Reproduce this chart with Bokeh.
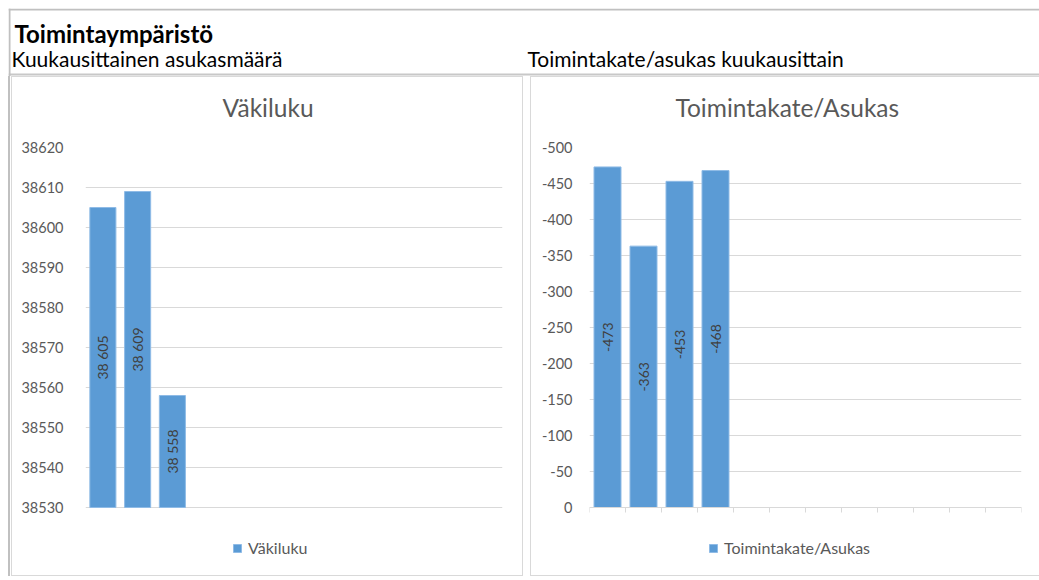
from math import pi
from bokeh.plotting import figure
from bokeh.models import (Range1d, FixedTicker, Span, Label, Legend, LegendItem,
                          Spacer, ColumnDataSource)
from bokeh.layouts import column, row
from bokeh.core.properties import value
from bokeh.embed import file_html
from bokeh.resources import INLINE

# ---------------- data ----------------
header_title = "Toimintaympäristö"
left_subtitle = "Kuukausittainen asukasmäärä"
right_subtitle = "Toimintakate/asukas kuukausittain"

months = ["tammi", "helmi", "maalis", "huhti", "touko", "kesä",
          "heinä", "elo", "syys", "loka", "marras", "joulu"]

vakiluku_title = "Väkiluku"
vakiluku = [38605, 38609, 38558]
vakiluku_ticks = [38530, 38540, 38550, 38560, 38570, 38580, 38590, 38600, 38610, 38620]
vakiluku_tick_labels = ["38530", "38540", "38550", "38560", "38570", "38580",
                        "38590", "38600", "38610", "38620"]

tk_title = "Toimintakate/Asukas"
toimintakate = [-473, -363, -453, -468]
tk_ticks = [0, -50, -100, -150, -200, -250, -300, -350, -400, -450, -500]
tk_tick_labels = ["0", "-50", "-100", "-150", "-200", "-250", "-300", "-350",
                  "-400", "-450", "-500"]

# ---------------- style ----------------
FONT = "Lato"
BAR = "#5b9bd5"
GRID = "#d9d9d9"
TXT = "#595959"
LBL = "#404040"
BOXC = {"background-color": "#d9d9d9"}
OUTER = {"background-color": "#c0c0c0"}

CH = 500          # chart box height (with its 1px border lines)
PLOT_H = 360      # height of the gridded value area
LEG_H = 68        # room below the value area for the legend

# ---------------- header ----------------
HW, HH = 1031, 68
hdr = figure(width=HW, height=HH, x_range=Range1d(0, HW), y_range=Range1d(0, HH),
             x_axis_type=None, y_axis_type=None, output_backend="svg",
             toolbar_location=None, min_border=0)
hdr.outline_line_color = None
hdr.background_fill_alpha = 0
hdr.border_fill_alpha = 0
hdr.grid.visible = False
hdr.add_layout(Span(location=HH - 1, dimension="width", line_color="#c0c0c0", line_width=2))
hdr.add_layout(Span(location=HH - 66, dimension="width", line_color="#c8c8c8", line_width=2))
hdr.add_layout(Span(location=1, dimension="height", line_color="#c0c0c0", line_width=2))
hdr.add_layout(Label(x=6, y=HH - 25, text=header_title, text_font=FONT,
                     text_font_style="bold", text_font_size="24px",
                     text_color="#000000", text_baseline="alphabetic"))
hdr.add_layout(Label(x=3, y=HH - 49.5, text=left_subtitle, text_font=FONT,
                     text_font_size="21px", text_color="#000000",
                     text_baseline="middle"))
hdr.add_layout(Label(x=519, y=HH - 49.5, text=right_subtitle, text_font=FONT,
                     text_font_size="21px", text_color="#000000",
                     text_baseline="middle"))


def style_chart(p, title, ticks, tick_labels, standoff, title_offset):
    p.outline_line_color = None
    p.title.text = title
    p.title.align = "left"
    p.title.text_font = FONT
    p.title.text_font_style = "normal"
    p.title.text_font_size = "24.5px"
    p.title.text_color = TXT
    p.title.standoff = 0
    p.title.padding = dict(top=0, right=0, bottom=26, left=0)
    p.title.offset = title_offset
    p.xgrid.visible = False
    p.ygrid.ticker = FixedTicker(ticks=ticks)
    p.ygrid.grid_line_color = GRID
    p.ygrid.grid_line_width = 1
    ya = p.yaxis[0]
    ya.ticker = FixedTicker(ticks=ticks)
    ya.major_label_overrides = {t: s for t, s in zip(ticks, tick_labels)}
    ya.axis_line_color = None
    ya.major_tick_line_color = None
    ya.minor_tick_line_color = None
    ya.major_label_standoff = standoff
    ya.major_label_text_font = FONT
    ya.major_label_text_font_size = "14.5px"
    ya.major_label_text_color = TXT


def make_legend(label, renderer, loc):
    return Legend(items=[LegendItem(label=label, renderers=[renderer])],
                  location=loc, orientation="horizontal", glyph_width=10,
                  glyph_height=10, label_height=10, padding=0, margin=0,
                  label_standoff=6, border_line_color=None,
                  background_fill_alpha=0, label_text_font=FONT,
                  label_text_font_size="16px", label_text_color=TXT)


n = len(months)

# ---------------- left chart ----------------
y0, y1 = vakiluku_ticks[0], vakiluku_ticks[-1]
ext1 = LEG_H * (y1 - y0) / PLOT_H
src1 = ColumnDataSource(dict(
    x=[i + 0.5 for i in range(len(vakiluku))],
    top=vakiluku,
    mid=[(y0 + v) / 2 for v in vakiluku],
    label=[f"{v:,}".replace(",", " ") for v in vakiluku],
))
p1 = figure(width=510, height=CH - 2, x_range=Range1d(0, n),
            y_range=Range1d(y0 - ext1, y1),
            output_backend="svg", toolbar_location=None,
            min_border_left=73, min_border_right=20, min_border_top=70,
            min_border_bottom=0)
style_chart(p1, vakiluku_title, vakiluku_ticks, vakiluku_tick_labels, 16, 137)
p1.xaxis.visible = False
r1 = p1.vbar(x="x", top="top", bottom=y0, width=0.75, fill_color=BAR,
             line_color="#8fbbe6", line_width=1, source=src1)
p1.text(x="x", y="mid", text="label", angle=pi / 2, text_align="center",
        text_baseline="middle", text_font=value(FONT), text_font_size="14px",
        text_color=LBL, source=src1)
p1.add_layout(make_legend(vakiluku_title, r1, (147, 18)), "center")

# ---------------- right chart ----------------
t0, t1 = tk_ticks[0], tk_ticks[-1]
ext2 = LEG_H * (t0 - t1) / PLOT_H
src2 = ColumnDataSource(dict(
    x=[i + 0.5 for i in range(len(toimintakate))],
    top=toimintakate,
    mid=[v / 2 for v in toimintakate],
    label=[str(v) for v in toimintakate],
))
p2 = figure(width=508, height=CH - 2, x_range=Range1d(0, n),
            y_range=Range1d(t0 + ext2, t1),
            output_backend="svg", toolbar_location=None,
            min_border_left=58, min_border_right=18, min_border_top=70,
            min_border_bottom=0)
style_chart(p2, tk_title, tk_ticks, tk_tick_labels, 11, 86)
xa = p2.xaxis[0]
xa.fixed_location = t0
xa.ticker = FixedTicker(ticks=list(range(n + 1)))
xa.major_label_overrides = {i: "" for i in range(n + 1)}
xa.major_label_text_font_size = "1px"
xa.major_label_standoff = 0
xa.axis_line_color = GRID
xa.major_tick_line_color = GRID
xa.major_tick_out = 5
xa.major_tick_in = 0
xa.minor_tick_line_color = None
r2 = p2.vbar(x="x", top="top", bottom=t0, width=0.75, fill_color=BAR,
             line_color="#8fbbe6", line_width=1, source=src2)
p2.text(x="x", y="mid", text="label", angle=pi / 2, text_align="center",
        text_baseline="middle", text_font=value(FONT), text_font_size="14px",
        text_color=LBL, source=src2)
p2.add_layout(make_legend(tk_title, r2, (119, 18)), "center")


def boxed(fig, w, right_line=True):
    inner = column(Spacer(width=w, height=1, styles=BOXC), fig,
                   Spacer(width=w, height=1, styles=BOXC))
    kids = [Spacer(width=1, height=CH, styles=BOXC), inner]
    if right_line:
        kids.append(Spacer(width=1, height=CH, styles=BOXC))
    return row(*kids)


charts = row(Spacer(width=2, height=CH, styles=OUTER), Spacer(width=1, height=CH),
             boxed(p1, 510), Spacer(width=7, height=CH), boxed(p2, 508, False))
layout = column(Spacer(width=1039, height=8),
                row(Spacer(width=8, height=HH + CH), column(hdr, charts)))

open("out.html", "w").write(file_html(layout, INLINE))
